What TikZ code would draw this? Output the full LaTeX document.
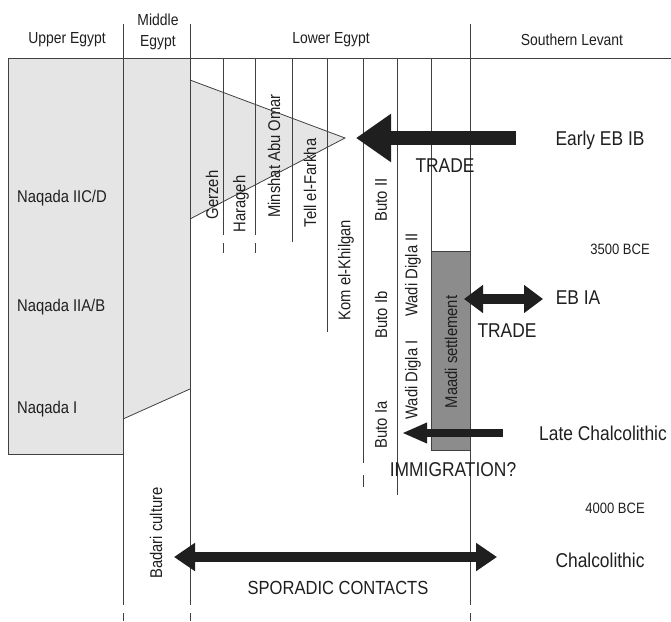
\documentclass[tikz,border=0pt]{standalone}
\usepackage{fontspec}
\setmainfont[FakeStretch=0.87]{Liberation Sans}
\usepackage{tikz}
\usetikzlibrary{positioning}
\usetikzlibrary{arrows.meta}

\definecolor{linegray}{gray}{0.25}
\definecolor{lightfill}{gray}{0.9}
\definecolor{darkfill}{gray}{0.55}
\definecolor{inkgray}{gray}{0.12}

\tikzset{
  col/.style={draw=linegray, line width=0.8pt},
  lab/.style={inner sep=0pt, text=inkgray, font=\fontsize{17}{17}\selectfont},
  site/.style={lab, rotate=90},
  head/.style={lab, align=center, font=\fontsize{16}{21}\selectfont},
  big/.style={lab, font=\fontsize{20}{20}\selectfont},
  date/.style={lab, font=\fontsize{15}{15}\selectfont},
  blockarrow/.style={draw=inkgray, line width=#1}
}

\begin{document}
\begin{tikzpicture}[x=1pt, y=-1pt]
    \useasboundingbox (0,0) rectangle (671,621);

    % shaded areas
    \fill[lightfill] (8,58) rectangle (123,454);
    \fill[lightfill] (123,58) -- (190,58) -- (190,389) -- (123,419) -- cycle;
    \draw[col] (123,419) -- (190,389);
    \draw[col, fill=lightfill] (190,80) -- (345,138) -- (190,219);
    \draw[col, fill=darkfill] (431,251) rectangle (470,450);
    \draw[col] (8,58) -- (8,454) -- (123,454);

    % header and main columns
    \draw[col] (8,58) -- (671,58);
    \draw[col] (123,24) -- (123,605);
    \draw[col] (190,24) -- (190,605);
    \draw[col] (470,24) -- (470,605);
    \draw[col] (123,613) -- (123,621);
    \draw[col] (190,613) -- (190,621);
    \draw[col] (470,613) -- (470,621);

    % site columns
    \draw[col] (223,58) -- (223,235);
    \draw[col] (223,243) -- (223,253);
    \draw[col] (255,58) -- (255,235);
    \draw[col] (255,243) -- (255,253);
    \draw[col] (292,58) -- (292,242);
    \draw[col] (327,58) -- (327,332);
    \draw[col] (363,58) -- (363,463);
    \draw[col] (363,475) -- (363,487);
    \draw[col] (397,58) -- (397,495);
    \draw[col] (431,58) -- (431,251);

    \node[head] (UE) at (67,40) {Upper Egypt};
    \node[head] (ME) at (158,32) {Middle\\Egypt};
    \node[head] (LE) at (331,40) {Lower Egypt};
    \node[head] (SL) at (572,40) {Southern Levant};

    \node[lab, anchor=west] (N1) at (17,198) {Naqada IIC/D};
    \node[lab, anchor=west] (N2) at (17,307) {Naqada IIA/B};
    \node[lab, anchor=west] (N3) at (17,409) {Naqada I};

    \node[site] (Ge) at (212,195) {Gerzeh};
    \node[site] (Ha) at (241,204) {Harageh};
    \node[site] (MA) at (274,156) {Minshat Abu Omar};
    \node[site] (TF) at (310,183) {Tell el-Farkha};
    \node[site] (KK) at (346,270) {Kom el-Khilgan};
    \node[site] (B2) at (381,200) {Buto II};
    \node[site] (B1b) at (381,315) {Buto Ib};
    \node[site] (B1a) at (381,425) {Buto Ia};
    \node[site] (WD2) at (413,275) {Wadi Digla II};
    \node[site] (WD1) at (413,380) {Wadi Digla I};
    \node[site] (MS) at (451,352) {Maadi settlement};
    \node[site] (Ba) at (156,533) {Badari culture};

    \node[big] (EBIB) at (600,140) {Early EB IB};
    \node[date] (D35) at (620,249) {3500 BCE};
    \node[big] (EBIA) at (578,298) {EB IA};
    \node[big] (LC) at (603,433) {Late Chalcolithic};
    \node[date] (D40) at (615,508) {4000 BCE};
    \node[big] (Ch) at (600,560) {Chalcolithic};

    \node[big] (T1) at (445,166) {TRADE};
    \node[big] (T2) at (507,331) {TRADE};
    \node[big] (Im) at (453,470) {IMMIGRATION?};
    \node[lab, font=\fontsize{19}{19}\selectfont] (SC) at (338,588) {SPORADIC CONTACTS};

    \coordinate (ebibTail) at (516,138);
    \coordinate (ebibTip) at (356,138);
    \coordinate (ebiaL) at (464,299);
    \coordinate (ebiaR) at (543,299);
    \coordinate (lcTail) at (503,433);
    \coordinate (lcTip) at (402,433);
    \coordinate (chL) at (174,557);
    \coordinate (chR) at (497,557);

    \draw[blockarrow=14pt, -{Triangle[length=35pt, width=46pt]}] (ebibTail) -- (ebibTip);
    \draw[blockarrow=10pt, {Triangle[length=19pt, width=27pt]}-{Triangle[length=19pt, width=27pt]}] (ebiaL) -- (ebiaR);
    \draw[blockarrow=8pt, -{Triangle[length=25pt, width=19pt]}] (lcTail) -- (lcTip);
    \draw[blockarrow=10pt, {Triangle[length=21pt, width=27pt]}-{Triangle[length=21pt, width=27pt]}] (chL) -- (chR);
\end{tikzpicture}
\end{document}
